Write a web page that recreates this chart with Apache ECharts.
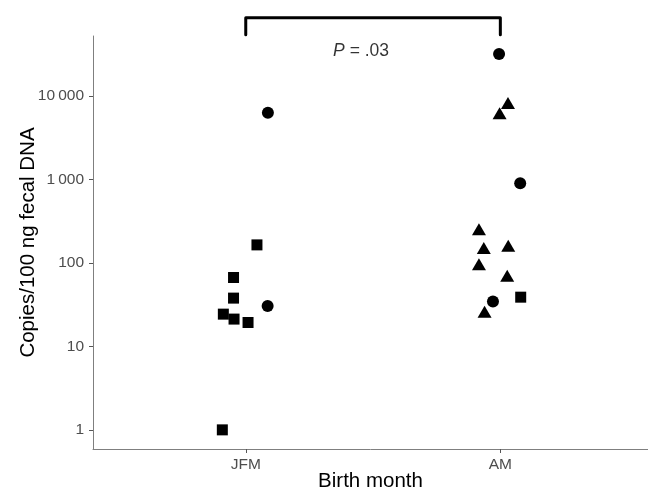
<!DOCTYPE html>
<html>
<head>
<meta charset="utf-8">
<script src="https://cdn.jsdelivr.net/npm/echarts@6/dist/echarts.min.js"></script>
<style>
  html, body { margin: 0; padding: 0; background: #fff; }
  #chart { width: 648px; height: 491px; }
</style>
</head>
<body>
<div id="chart"></div>
<script>
// categories on the x axis (positions 1 and 2)
const categories = ['JFM', 'AM']
const yTicks = [1, 10, 100, 1000, 10000]

// [x position incl. jitter, copies/100 ng]
const circles = [
  [1.087, 6250], [1.086, 30.5],
  [1.995, 31600], [2.078, 900], [1.971, 34.4]
]
const squares = [
  [1.044, 164], [0.952, 66.7], [0.952, 37.8], [0.912, 24.3],
  [0.954, 21.2], [1.009, 19.3], [0.908, 1],
  [2.080, 38.8]
]
const triangles = [
  [2.030, 8180], [1.997, 6200], [1.916, 253], [1.935, 150],
  [2.031, 160], [1.916, 96], [2.027, 70], [1.938, 26]
]

// significance bracket between the two groups
const bracket = [[1, 54000], [1, 86000], [2, 86000], [2, 54000]]
const pLabel = [[1.453, 34000]]

const yMin = 0.59
const yMax = 52000

const chart = echarts.init(document.getElementById('chart'))

function fmtY(v) {
  return String(v).replace(/(\d)(?=(\d{3})+$)/g, '$1\u2009')
}

chart.setOption({
  animation: false,
  textStyle: { fontFamily: 'Liberation Sans, Arial, sans-serif' },
  grid: { left: 93, right: 0, top: 36, bottom: 42, outerBoundsMode: 'none', containLabel: false },
  xAxis: {
    type: 'value',
    min: 0.4,
    max: 2.58,
    name: 'Birth month',
    nameLocation: 'middle',
    nameGap: 22,
    nameMoveOverlap: false,
    nameTextStyle: { color: '#000', fontSize: 20.5 },
    splitLine: { show: false },
    axisLine: { lineStyle: { color: '#7f7f7f', width: 1 } },
    axisTick: { length: 4, lineStyle: { color: '#555' }, customValues: [1, 2] },
    axisLabel: {
      color: '#4d4d4d',
      fontSize: 15.5,
      margin: 8,
      customValues: [1, 2],
      formatter: (v) => categories[Math.round(v) - 1] || ''
    }
  },
  yAxis: {
    type: 'log',
    logBase: 10,
    min: yMin,
    max: yMax,
    name: 'Copies/100 ng fecal DNA',
    nameLocation: 'middle',
    nameGap: 54,
    nameMoveOverlap: false,
    nameTextStyle: { color: '#000', fontSize: 20.5 },
    splitLine: { show: false },
    axisLine: { show: true, lineStyle: { color: '#7f7f7f', width: 1 } },
    axisTick: { show: true, length: 4, lineStyle: { color: '#555' }, customValues: yTicks },
    axisLabel: {
      color: '#4d4d4d',
      fontSize: 15.5,
      margin: 9,
      customValues: yTicks,
      formatter: (v) => fmtY(Math.round(v))
    }
  },
  series: [
    {
      type: 'scatter',
      symbol: 'circle',
      symbolSize: 12,
      itemStyle: { color: '#000', opacity: 1 },
      data: circles
    },
    {
      type: 'scatter',
      symbol: 'rect',
      symbolSize: 11,
      itemStyle: { color: '#000', opacity: 1 },
      data: squares
    },
    {
      type: 'scatter',
      symbol: 'triangle',
      symbolSize: [14, 12],
      itemStyle: { color: '#000', opacity: 1 },
      data: triangles
    },
    {
      type: 'line',
      clip: false,
      symbol: 'none',
      silent: true,
      lineStyle: { color: '#000', width: 3, join: 'round', cap: 'round' },
      data: bracket
    },
    {
      type: 'scatter',
      clip: false,
      symbolSize: 0,
      silent: true,
      label: {
        show: true,
        position: 'inside',
        formatter: '{i|P} = .03',
        color: '#000',
        fontSize: 17.5,
        rich: { i: { fontStyle: 'italic', fontSize: 17.5, color: '#000' } }
      },
      data: pLabel
    }
  ]
})
</script>
</body>
</html>
